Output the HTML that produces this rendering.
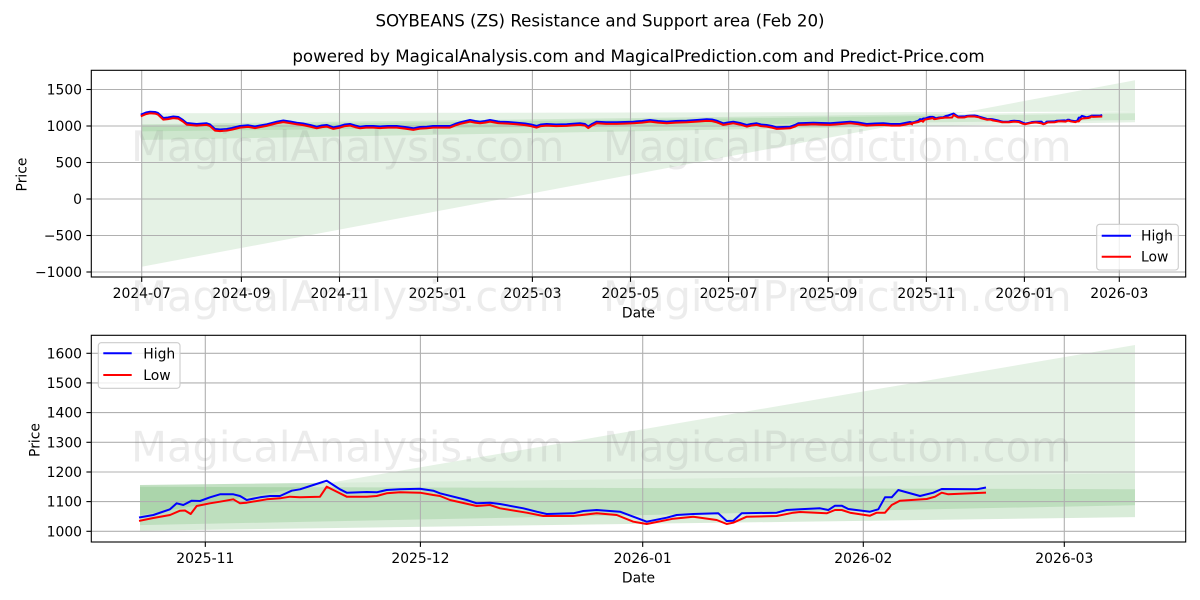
<!DOCTYPE html>
<html><head><meta charset="utf-8"><style>
html,body{margin:0;padding:0;background:#fff;}
svg{display:block;font-family:"DejaVu Sans","Liberation Sans",sans-serif;}
</style></head><body>
<svg width="1200" height="600" viewBox="0 0 1200 600" xmlns="http://www.w3.org/2000/svg">
<rect x="0" y="0" width="1200" height="600" fill="#fff"/>
<text x="600" y="26.5" font-size="16.67" text-anchor="middle" fill="#000">SOYBEANS (ZS) Resistance and Support area (Feb 20)</text>
<text x="638.5" y="62" font-size="16.67" text-anchor="middle" fill="#000">powered by MagicalAnalysis.com and MagicalPrediction.com and Predict-Price.com</text>

<!-- ============ TOP AXES ============ -->
<g>
<polygon points="141.7,266.7 1135,80.2 1135,111.7 141.7,113.3" fill="#008000" fill-opacity="0.1"/>
<polygon points="141.7,140 1135,122.3 1135,111.7 141.7,124.2" fill="#008000" fill-opacity="0.1"/>
<polygon points="141.7,131.4 1135,120 1135,113.3 141.7,126" fill="#008000" fill-opacity="0.09"/>
</g>
<g stroke="#b0b0b0" stroke-width="1.1" fill="none">
<line x1="91.3" y1="89.5" x2="1185.7" y2="89.5"/>
<line x1="91.3" y1="126" x2="1185.7" y2="126"/>
<line x1="91.3" y1="162.5" x2="1185.7" y2="162.5"/>
<line x1="91.3" y1="199" x2="1185.7" y2="199"/>
<line x1="91.3" y1="235.5" x2="1185.7" y2="235.5"/>
<line x1="91.3" y1="272" x2="1185.7" y2="272"/>
<line x1="141.7" y1="70.3" x2="141.7" y2="277"/>
<line x1="241.4" y1="70.3" x2="241.4" y2="277"/>
<line x1="339.5" y1="70.3" x2="339.5" y2="277"/>
<line x1="437.6" y1="70.3" x2="437.6" y2="277"/>
<line x1="532.4" y1="70.3" x2="532.4" y2="277"/>
<line x1="630.5" y1="70.3" x2="630.5" y2="277"/>
<line x1="728.6" y1="70.3" x2="728.6" y2="277"/>
<line x1="828.3" y1="70.3" x2="828.3" y2="277"/>
<line x1="926.4" y1="70.3" x2="926.4" y2="277"/>
<line x1="1024.4" y1="70.3" x2="1024.4" y2="277"/>
<line x1="1119.3" y1="70.3" x2="1119.3" y2="277"/>
</g>
<g fill="none" stroke-width="2" stroke-linejoin="round" stroke-linecap="square">
<polyline stroke="#0000ff" points="141.7,114.3 146,112.5 150,111.7 155,112 158,113 163.3,118 168,117.5 173.3,116.5 178.3,117 183,120 186.7,123 196.7,124 203,123.5 206.7,123.3 210,124.5 215,129 220,129.5 226.7,129 232,128 240,126 248.3,125.3 255,126.5 260,125.5 266.7,124.3 276.7,121.7 283.3,120.5 290,121.5 296.7,122.7 303,123.5 310,125 316.7,126.7 322,125.5 326.7,125 333.3,127.3 340,126 345,124.5 350,124 355,125.5 360,126.7 366,126 373.3,126 380,126.5 388,126 396.7,126 405,127 413.3,128.3 420,127 426.7,126.7 433,126 440,126 450,126 455,124 460,122.3 470,120 475,121 480,121.7 485,121 490,120 498,121.5 500,121.7 508,122 516.7,122.7 525,123.5 531,124.5 536.7,126 541,124.5 546.7,124 556,124.5 566.7,124.3 573,123.8 580,123.3 585,124 588.3,126.5 592,124 596.7,121.7 606,122.3 616.7,122.3 625,122 633.3,121.7 642,121 650,120 658,121 666.7,121.7 676,121 686.7,120.7 697,120 706.7,119.3 712,119.5 716.7,120.7 720,122 723.3,123.3 728,122.5 733.3,121.7 740,123 746.7,125 751,124 756.7,123.3 761,124.5 766.7,125 772,126 776.7,127.3 783,127 790,126.7 795,125 798.3,123.3 806,123 813.3,122.7 821,123 830,123.3 840,122.5 850,121.7 858,122.5 866.7,124 875,123.5 883.3,123.3 891,124 900,124 905,123 910,122 912,122.6"/>
<polyline stroke="#0000ff" vector-effect="non-scaling-stroke" transform="matrix(0.22425,0,0,0.24604,880.36,-4.72)" points="140,517.3 153.3,515 170,509.3 176.7,503.3 183.3,505 191.7,500.7 200,501 210,497.3 220,494.3 233.3,494.3 240,496 246.7,500 260,497.3 270,496 280,496 291.7,490.7 300,489.3 313.3,485 326.7,480.7 333.3,485 340,489.3 346.7,492.7 366.7,492 376.7,492.3 386.7,490 400,489.3 420,488.7 433.3,490.7 440,493.3 466.7,500 476.7,503.3 490,502.7 500,504 523.3,508.3 536.7,511.7 546.7,514 573.3,513.3 583.3,511 596.7,510 620,511.7 633.3,516.7 646.7,521.7 666.7,517.7 676.7,515 693.3,514 718.3,513.3 726.7,521 733.3,520.7 741.7,513.3 776.7,512.7 786.7,510 800,509.3 820,508.3 828.3,510 835,505.7 841.7,505.7 848.3,509 870,511.7 878.3,509.3 885,497.3 891.7,497.3 898.3,490 920,496 933.3,492.7 941.7,489 976.7,489.3 985,487.7"/>
<polyline stroke="#ff0000" transform="translate(0,1.6)" points="141.7,114.3 146,112.5 150,111.7 155,112 158,113 163.3,118 168,117.5 173.3,116.5 178.3,117 183,120 186.7,123 196.7,124 203,123.5 206.7,123.3 210,124.5 215,129 220,129.5 226.7,129 232,128 240,126 248.3,125.3 255,126.5 260,125.5 266.7,124.3 276.7,121.7 283.3,120.5 290,121.5 296.7,122.7 303,123.5 310,125 316.7,126.7 322,125.5 326.7,125 333.3,127.3 340,126 345,124.5 350,124 355,125.5 360,126.7 366,126 373.3,126 380,126.5 388,126 396.7,126 405,127 413.3,128.3 420,127 426.7,126.7 433,126 440,126 450,126 455,124 460,122.3 470,120 475,121 480,121.7 485,121 490,120 498,121.5 500,121.7 508,122 516.7,122.7 525,123.5 531,124.5 536.7,126 541,124.5 546.7,124 556,124.5 566.7,124.3 573,123.8 580,123.3 585,124 588.3,126.5 592,124 596.7,121.7 606,122.3 616.7,122.3 625,122 633.3,121.7 642,121 650,120 658,121 666.7,121.7 676,121 686.7,120.7 697,120 706.7,119.3 712,119.5 716.7,120.7 720,122 723.3,123.3 728,122.5 733.3,121.7 740,123 746.7,125 751,124 756.7,123.3 761,124.5 766.7,125 772,126 776.7,127.3 783,127 790,126.7 795,125 798.3,123.3 806,123 813.3,122.7 821,123 830,123.3 840,122.5 850,121.7 858,122.5 866.7,124 875,123.5 883.3,123.3 891,124 900,124 905,123 910,122 912,122.6"/>
<polyline stroke="#ff0000" vector-effect="non-scaling-stroke" transform="matrix(0.22425,0,0,0.24604,880.36,-4.72)" points="140,520.7 153.3,518 170,515 180,510.7 185,510.5 190.7,514 196.7,506 210,503.3 220,501.7 233.3,499.3 240,503.3 246.7,502.7 266.7,499.3 280,498.3 290,496.7 300,497.3 320,496.7 326.7,486.7 333.3,490 346.7,496.7 366.7,496.7 376.7,496 386.7,493.3 400,492.3 420,492.7 433.3,495 440,496 450,500 476.7,506 490,505 500,508.3 526.7,512.7 543.3,516 573.3,516 596.7,513.3 616.7,515 633.3,521.7 646.7,524 673.3,518.7 693.3,516.7 716.7,520 726.7,524 733.3,522.7 746.7,516.7 776.7,516 793.3,512.7 800,512 826.7,513.3 835,510 841.7,510 850,512.7 870,515.7 876.7,512.7 885,512.7 891.7,505 900,500.7 926.7,499 935,496.7 941.7,492.7 948.3,494.3 985,492.7"/>
</g>
<rect x="91.3" y="70.3" width="1094.4" height="206.7" fill="none" stroke="#000" stroke-width="1.1"/>
<g stroke="#000" stroke-width="1.1">
<line x1="86.4" y1="89.5" x2="91.3" y2="89.5"/>
<line x1="86.4" y1="126" x2="91.3" y2="126"/>
<line x1="86.4" y1="162.5" x2="91.3" y2="162.5"/>
<line x1="86.4" y1="199" x2="91.3" y2="199"/>
<line x1="86.4" y1="235.5" x2="91.3" y2="235.5"/>
<line x1="86.4" y1="272" x2="91.3" y2="272"/>
<line x1="141.7" y1="277" x2="141.7" y2="281.9"/>
<line x1="241.4" y1="277" x2="241.4" y2="281.9"/>
<line x1="339.5" y1="277" x2="339.5" y2="281.9"/>
<line x1="437.6" y1="277" x2="437.6" y2="281.9"/>
<line x1="532.4" y1="277" x2="532.4" y2="281.9"/>
<line x1="630.5" y1="277" x2="630.5" y2="281.9"/>
<line x1="728.6" y1="277" x2="728.6" y2="281.9"/>
<line x1="828.3" y1="277" x2="828.3" y2="281.9"/>
<line x1="926.4" y1="277" x2="926.4" y2="281.9"/>
<line x1="1024.4" y1="277" x2="1024.4" y2="281.9"/>
<line x1="1119.3" y1="277" x2="1119.3" y2="281.9"/>
</g>
<g font-size="13.9" fill="#000" text-anchor="end">
<text x="82" y="94.5">1500</text>
<text x="82" y="131">1000</text>
<text x="82" y="167.5">500</text>
<text x="82" y="204">0</text>
<text x="82" y="240.5">−500</text>
<text x="82" y="277">−1000</text>
</g>
<g font-size="13.9" fill="#000" text-anchor="middle">
<text x="141.7" y="297.8">2024-07</text>
<text x="241.4" y="297.8">2024-09</text>
<text x="339.5" y="297.8">2024-11</text>
<text x="437.6" y="297.8">2025-01</text>
<text x="532.4" y="297.8">2025-03</text>
<text x="630.5" y="297.8">2025-05</text>
<text x="728.6" y="297.8">2025-07</text>
<text x="828.3" y="297.8">2025-09</text>
<text x="926.4" y="297.8">2025-11</text>
<text x="1024.4" y="297.8">2026-01</text>
<text x="1119.3" y="297.8">2026-03</text>
<text x="638.5" y="317.3">Date</text>
<text transform="translate(26.5,174.5) rotate(-90)">Price</text>
</g>
<g>
<rect x="1096.7" y="224.3" width="81.6" height="45.7" rx="3" ry="3" fill="#fff" fill-opacity="0.8" stroke="#cccccc" stroke-width="1.1"/>
<line x1="1101.7" y1="235.7" x2="1131" y2="235.7" stroke="#0000ff" stroke-width="2"/>
<line x1="1101.7" y1="256.7" x2="1131" y2="256.7" stroke="#ff0000" stroke-width="2"/>
<text x="1141" y="240.7" font-size="13.9" fill="#000">High</text>
<text x="1141" y="261.7" font-size="13.9" fill="#000">Low</text>
</g>

<!-- ============ BOTTOM AXES ============ -->
<g>
<polygon points="140,515.3 1135,345 1135,473.2 140,485" fill="#008000" fill-opacity="0.1"/>
<polygon points="140,530.7 1135,517.1 1135,473.2 140,485" fill="#008000" fill-opacity="0.15"/>
<polygon points="140,525.1 1135,505.2 1135,489.2 140,486.8" fill="#008000" fill-opacity="0.12"/>
</g>
<g stroke="#b0b0b0" stroke-width="1.1" fill="none">
<line x1="91.3" y1="531.3" x2="1185.7" y2="531.3"/>
<line x1="91.3" y1="501.6" x2="1185.7" y2="501.6"/>
<line x1="91.3" y1="472" x2="1185.7" y2="472"/>
<line x1="91.3" y1="442.3" x2="1185.7" y2="442.3"/>
<line x1="91.3" y1="412.6" x2="1185.7" y2="412.6"/>
<line x1="91.3" y1="382.9" x2="1185.7" y2="382.9"/>
<line x1="91.3" y1="353.3" x2="1185.7" y2="353.3"/>
<line x1="205.3" y1="335.3" x2="205.3" y2="542"/>
<line x1="420.4" y1="335.3" x2="420.4" y2="542"/>
<line x1="642.7" y1="335.3" x2="642.7" y2="542"/>
<line x1="863.3" y1="335.3" x2="863.3" y2="542"/>
<line x1="1064.3" y1="335.3" x2="1064.3" y2="542"/>
</g>
<g fill="none" stroke-width="2" stroke-linejoin="round" stroke-linecap="square">
<polyline stroke="#0000ff" points="140,517.3 153.3,515 170,509.3 176.7,503.3 183.3,505 191.7,500.7 200,501 210,497.3 220,494.3 233.3,494.3 240,496 246.7,500 260,497.3 270,496 280,496 291.7,490.7 300,489.3 313.3,485 326.7,480.7 333.3,485 340,489.3 346.7,492.7 366.7,492 376.7,492.3 386.7,490 400,489.3 420,488.7 433.3,490.7 440,493.3 466.7,500 476.7,503.3 490,502.7 500,504 523.3,508.3 536.7,511.7 546.7,514 573.3,513.3 583.3,511 596.7,510 620,511.7 633.3,516.7 646.7,521.7 666.7,517.7 676.7,515 693.3,514 718.3,513.3 726.7,521 733.3,520.7 741.7,513.3 776.7,512.7 786.7,510 800,509.3 820,508.3 828.3,510 835,505.7 841.7,505.7 848.3,509 870,511.7 878.3,509.3 885,497.3 891.7,497.3 898.3,490 920,496 933.3,492.7 941.7,489 976.7,489.3 985,487.7"/>
<polyline stroke="#ff0000" points="140,520.7 153.3,518 170,515 180,510.7 185,510.5 190.7,514 196.7,506 210,503.3 220,501.7 233.3,499.3 240,503.3 246.7,502.7 266.7,499.3 280,498.3 290,496.7 300,497.3 320,496.7 326.7,486.7 333.3,490 346.7,496.7 366.7,496.7 376.7,496 386.7,493.3 400,492.3 420,492.7 433.3,495 440,496 450,500 476.7,506 490,505 500,508.3 526.7,512.7 543.3,516 573.3,516 596.7,513.3 616.7,515 633.3,521.7 646.7,524 673.3,518.7 693.3,516.7 716.7,520 726.7,524 733.3,522.7 746.7,516.7 776.7,516 793.3,512.7 800,512 826.7,513.3 835,510 841.7,510 850,512.7 870,515.7 876.7,512.7 885,512.7 891.7,505 900,500.7 926.7,499 935,496.7 941.7,492.7 948.3,494.3 985,492.7"/>
</g>
<rect x="91.3" y="335.3" width="1094.4" height="206.7" fill="none" stroke="#000" stroke-width="1.1"/>
<g stroke="#000" stroke-width="1.1">
<line x1="86.4" y1="531.3" x2="91.3" y2="531.3"/>
<line x1="86.4" y1="501.6" x2="91.3" y2="501.6"/>
<line x1="86.4" y1="472" x2="91.3" y2="472"/>
<line x1="86.4" y1="442.3" x2="91.3" y2="442.3"/>
<line x1="86.4" y1="412.6" x2="91.3" y2="412.6"/>
<line x1="86.4" y1="382.9" x2="91.3" y2="382.9"/>
<line x1="86.4" y1="353.3" x2="91.3" y2="353.3"/>
<line x1="205.3" y1="542" x2="205.3" y2="546.9"/>
<line x1="420.4" y1="542" x2="420.4" y2="546.9"/>
<line x1="642.7" y1="542" x2="642.7" y2="546.9"/>
<line x1="863.3" y1="542" x2="863.3" y2="546.9"/>
<line x1="1064.3" y1="542" x2="1064.3" y2="546.9"/>
</g>
<g font-size="13.9" fill="#000" text-anchor="end">
<text x="82" y="536.3">1000</text>
<text x="82" y="506.6">1100</text>
<text x="82" y="477">1200</text>
<text x="82" y="447.3">1300</text>
<text x="82" y="417.6">1400</text>
<text x="82" y="387.9">1500</text>
<text x="82" y="358.3">1600</text>
</g>
<g font-size="13.9" fill="#000" text-anchor="middle">
<text x="205.3" y="562.8">2025-11</text>
<text x="420.4" y="562.8">2025-12</text>
<text x="642.7" y="562.8">2026-01</text>
<text x="863.3" y="562.8">2026-02</text>
<text x="1064.3" y="562.8">2026-03</text>
<text x="638.5" y="582.3">Date</text>
<text transform="translate(39.3,440) rotate(-90)">Price</text>
</g>
<g>
<rect x="98.3" y="342.7" width="81.7" height="45.6" rx="3" ry="3" fill="#fff" fill-opacity="0.8" stroke="#cccccc" stroke-width="1.1"/>
<line x1="103.3" y1="353.3" x2="131.7" y2="353.3" stroke="#0000ff" stroke-width="2"/>
<line x1="103.3" y1="375" x2="131.7" y2="375" stroke="#ff0000" stroke-width="2"/>
<text x="143.3" y="358.3" font-size="13.9" fill="#000">High</text>
<text x="143.3" y="380" font-size="13.9" fill="#000">Low</text>
</g>

<!-- watermarks -->
<g font-size="41.67" fill="#808080" fill-opacity="0.15">
<text x="131" y="161">MagicalAnalysis.com</text>
<text x="603" y="161">MagicalPrediction.com</text>
<text x="131" y="311">MagicalAnalysis.com</text>
<text x="603" y="311">MagicalPrediction.com</text>
<text x="131" y="461.5">MagicalAnalysis.com</text>
<text x="603" y="461.5">MagicalPrediction.com</text>
</g>
</svg>
</body></html>
